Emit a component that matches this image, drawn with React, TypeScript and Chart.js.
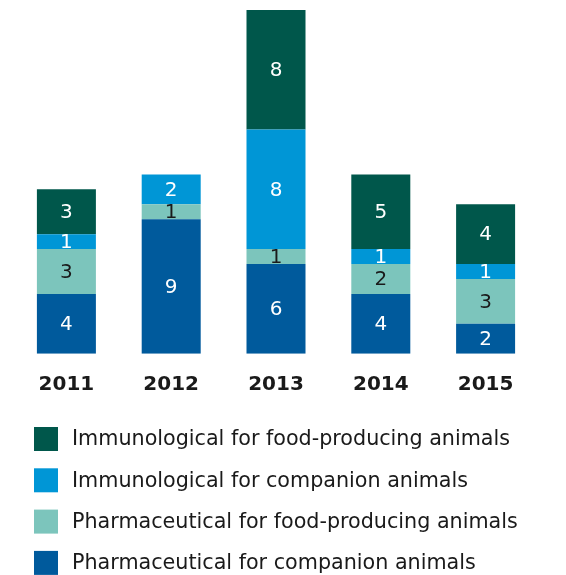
import React, { useEffect, useRef } from "react";
import { Chart, registerables } from "chart.js";

Chart.register(...registerables);

const categories = ["2011", "2012", "2013", "2014", "2015"];
const pharmaCompanion = [4, 9, 6, 4, 2];
const pharmaFood = [3, 1, 1, 2, 3];
const immunoCompanion = [1, 2, 8, 1, 1];
const immunoFood = [3, 0, 8, 5, 4];

const seriesLabels = [
  "Pharmaceutical for companion animals",
  "Pharmaceutical for food-producing animals",
  "Immunological for companion animals",
  "Immunological for food-producing animals",
];
const seriesColors = ["#005A9C", "#7CC5BC", "#0096D6", "#00574B"];
const labelColors = ["#ffffff", "#1a1a1a", "#ffffff", "#ffffff"];

const FONT = "'DejaVu Sans', Verdana, sans-serif";

const valueLabels = {
  id: "valueLabels",
  afterDatasetsDraw(chart: any) {
    const ctx = chart.ctx;
    ctx.save();
    ctx.font = `20px ${FONT}`;
    ctx.textAlign = "center";
    ctx.textBaseline = "middle";
    chart.data.datasets.forEach((ds: any, di: number) => {
      const meta = chart.getDatasetMeta(di);
      meta.data.forEach((bar: any, i: number) => {
        const v = ds.data[i];
        if (!v) return;
        const y = (bar.y + bar.base) / 2;
        ctx.fillStyle = labelColors[di];
        ctx.fillText(String(v), bar.x, y + 1);
      });
    });
    ctx.restore();
  },
};

const customLegend = {
  id: "customLegend",
  afterDraw(chart: any) {
    const ctx = chart.ctx;
    ctx.save();
    ctx.font = `20.7px ${FONT}`;
    ctx.textAlign = "left";
    ctx.textBaseline = "middle";
    const n = chart.data.datasets.length;
    const startY = 419;
    const step = 41.3;
    for (let k = 0; k < n; k++) {
      const di = n - 1 - k;
      const ds = chart.data.datasets[di];
      const y = startY + k * step;
      ctx.fillStyle = ds.backgroundColor;
      ctx.fillRect(26, y, 24, 24);
      ctx.fillStyle = "#1a1a1a";
      ctx.fillText(ds.label, 64, y + 13);
    }
    ctx.restore();
  },
};

export default function App() {
  const ref = useRef<HTMLCanvasElement>(null);
  useEffect(() => {
    const series = [pharmaCompanion, pharmaFood, immunoCompanion, immunoFood];
    const chart = new Chart(ref.current!, {
      type: "bar",
      data: {
        labels: categories,
        datasets: series.map((d, i) => ({
          label: seriesLabels[i],
          data: d,
          backgroundColor: seriesColors[i],
          borderWidth: 0,
          categoryPercentage: 1,
          barPercentage: 0.563,
        })),
      },
      options: {
        responsive: false,
        animation: false,
        layout: { padding: { left: 6, right: 20, top: 2, bottom: 0 } },
        plugins: {
          legend: { display: false },
          tooltip: { enabled: false },
        },
        scales: {
          x: {
            stacked: true,
            grid: { display: false, drawTicks: false },
            border: { display: false },
            ticks: {
              color: "#1a1a1a",
              padding: 19,
              font: { family: FONT, size: 20, weight: "bold" },
            },
            afterFit(scale: any) {
              scale.height = 221.3;
            },
          },
          y: {
            stacked: true,
            display: false,
            min: 0,
            max: 23,
          },
        },
      },
      plugins: [valueLabels, customLegend],
    });
    return () => chart.destroy();
  }, []);
  return (
    <canvas
      ref={ref}
      width={550}
      height={567}
      style={{ display: "block", width: 550, height: 567 }}
    />
  );
}
